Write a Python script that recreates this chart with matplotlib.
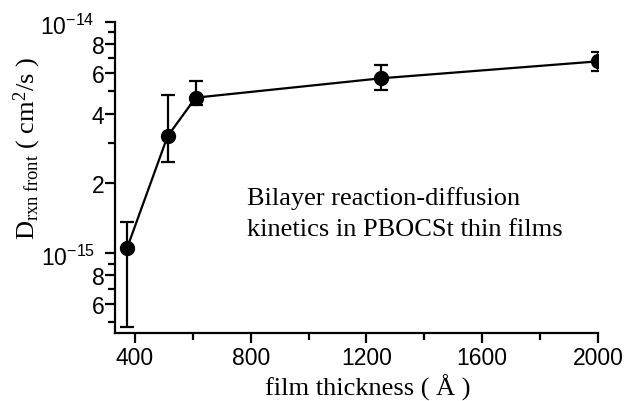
import matplotlib
matplotlib.use("Agg")
import matplotlib.pyplot as plt
from matplotlib.ticker import FixedLocator, NullFormatter

plt.rcParams["mathtext.fontset"] = "custom"
plt.rcParams["mathtext.rm"] = "Liberation Serif"
plt.rcParams["mathtext.it"] = "Liberation Serif:italic"
plt.rcParams["mathtext.sf"] = "Liberation Sans"

# data
thickness = [373, 513, 610, 1250, 2000]
d_front = [1.05e-15, 3.2e-15, 4.7e-15, 5.7e-15, 6.75e-15]
err_low = [0.57e-15, 0.72e-15, 0.35e-15, 0.65e-15, 0.6e-15]
err_high = [0.31e-15, 1.63e-15, 0.86e-15, 0.8e-15, 0.68e-15]

x_major = [400, 800, 1200, 1600, 2000]
x_minor = [600, 1000, 1400, 1800]
y_labelled = [6e-16, 8e-16, 1e-15, 2e-15, 4e-15, 6e-15, 8e-15, 1e-14]
y_labels = ["6", "8", "", "2", "4", "6", "8", ""]
y_decades = [1e-15, 1e-14]
y_decade_labels = [r"$\mathsf{10^{-15}}$", r"$\mathsf{10^{-14}}$"]
y_other = [5e-16, 7e-16, 9e-16, 3e-15, 5e-15, 7e-15, 9e-15]

note_lines = ["Bilayer reaction-diffusion", "kinetics in PBOCSt thin films"]

fig = plt.figure(figsize=(6.28, 4.02), dpi=100)
ax = fig.add_axes([0.183, 0.169, 0.769, 0.774])

ax.errorbar(thickness, d_front, yerr=[err_low, err_high], fmt="o-", color="black",
            ms=10, lw=1.6, elinewidth=1.6, capsize=5.2, capthick=1.6)

ax.set_yscale("log")
ax.set_xlim(331, 2000)
ax.set_ylim(4.5e-16, 1e-14)

ax.xaxis.set_major_locator(FixedLocator(x_major))
ax.xaxis.set_minor_locator(FixedLocator(x_minor))
ax.xaxis.set_minor_formatter(NullFormatter())
ax.set_xticklabels([str(v) for v in x_major], family="Liberation Sans", fontsize=16.5)

ax.yaxis.set_major_locator(FixedLocator(y_labelled))
ax.yaxis.set_minor_locator(FixedLocator(y_other))
ax.yaxis.set_minor_formatter(NullFormatter())
ax.set_yticklabels(y_labels, family="Liberation Sans", fontsize=16.5)

# decade labels sit further left and a touch lower than the plain digits
for val, lab in zip(y_decades, y_decade_labels):
    ax.annotate(lab, xy=(0, val), xycoords=("axes fraction", "data"),
                xytext=(-14.4, -3), textcoords="offset points",
                ha="right", va="center", fontsize=16.5, annotation_clip=False)

for s in ["top", "right"]:
    ax.spines[s].set_visible(False)
for s in ["left", "bottom"]:
    ax.spines[s].set_linewidth(1.6)

ax.tick_params(which="major", direction="out", length=7, width=1.6)
ax.tick_params(axis="y", which="major", pad=0.5)
ax.tick_params(axis="x", which="major", pad=2)
ax.tick_params(which="minor", direction="out", length=5, width=1.6)

fig.text(368 / 628, 1 - 396 / 402, "film thickness ( Å )", family="Liberation Serif",
         fontsize=19, ha="center", va="baseline")
fig.text(27 / 628, 1 - 149 / 402, r"D$_{\rm rxn\ front}$ ( cm$^2$/s )",
         family="Liberation Serif", fontsize=19, rotation=90, ha="center", va="center")

ax.text(0.273, 0.415, note_lines[0], transform=ax.transAxes,
        family="Liberation Serif", fontsize=19, va="baseline")
ax.text(0.273, 0.315, note_lines[1], transform=ax.transAxes,
        family="Liberation Serif", fontsize=19, va="baseline")

fig.savefig("out.png", dpi=100)
